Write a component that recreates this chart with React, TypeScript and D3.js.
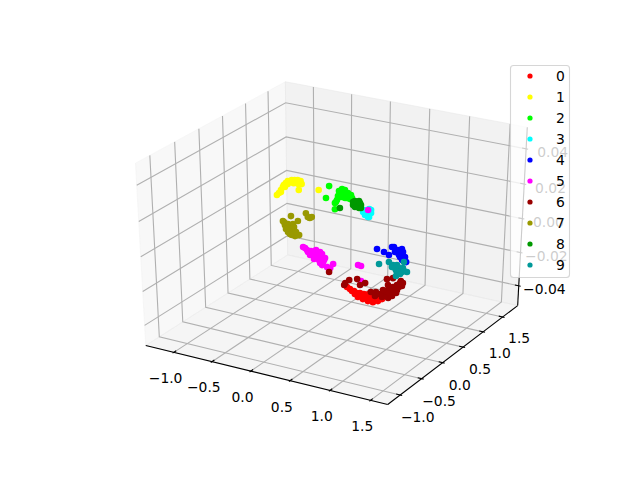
import * as d3 from 'd3';

type Pt = [number, number];

const labels = ['0', '1', '2', '3', '4', '5', '6', '7', '8', '9'];
const colors = ['#ff0000', '#ffff00', '#00ff00', '#00ffff', '#0000ff', '#ff00ff', '#990000', '#999900', '#009900', '#009999'];

const xTicks = [-1, -0.5, 0, 0.5, 1, 1.5];
const yTicks = [-1, -0.5, 0, 0.5, 1, 1.5];
const zTicks = [-0.04, -0.02, 0, 0.02, 0.04];

// all the points sit on z = 0
const class0: Pt[] = [[0.986, -0.885], [1.085, -0.955], [1.152, -1.013], [1.219, -1.069], [1.291, -1.091], [1.363, -1.112], [1.422, -1.11], [1.454, -1.058], [1.465, -0.988], [1.185, -0.961], [1.301, -1.021], [1.37, -1.012], [1.392, -0.966], [1.238, -0.993], [1.28, -0.937], [1.04, -0.918], [1.103, -0.944], [1.157, -0.977], [1.233, -1.028], [1.297, -1.055], [1.355, -1.053], [1.414, -1.05], [1.434, -0.974], [1.234, -0.964], [1.315, -0.979], [1.397, -0.996]];
const class1: Pt[] = [[-1.056, 1.128], [-1.069, 1.196], [-1.099, 1.293], [-1.129, 1.389], [-1.152, 1.451], [-1.165, 1.519], [-1.178, 1.588], [-1.155, 1.64], [-1.126, 1.658], [-1.096, 1.676], [-1.049, 1.665], [-0.99, 1.586], [-0.921, 1.399], [-1.142, 1.572], [-1.112, 1.59], [-1.056, 1.584], [-1.109, 1.401], [-0.723, 1.517], [-1.086, 1.566], [-1.129, 1.503], [-1.02, 1.568], [-1.066, 1.237]];
const class2: Pt[] = [[-0.682, 1.692], [-0.521, 1.332], [-0.257, 1.071], [-0.359, 1.276], [-0.38, 1.339], [-0.504, 1.608], [-0.505, 1.683], [-0.46, 1.672], [-0.383, 1.604], [-0.321, 1.565], [-0.313, 1.456], [-0.368, 1.461], [-0.446, 1.529], [-0.263, 1.485], [-0.325, 1.525], [-0.387, 1.564], [-0.432, 1.575], [-0.438, 1.61], [-0.388, 1.449], [-0.332, 1.444], [-0.267, 1.445], [-0.434, 1.459], [-0.353, 1.242]];
const class3: Pt[] = [[0.042, 1.218], [0.076, 1.275], [0.155, 1.175], [0.126, 1.085], [0.186, 1.047], [0.116, 1.152], [0.062, 1.157], [0.11, 1.258], [0.196, 1.053]];
const class4: Pt[] = [[0.739, 0.24], [0.847, 0.201], [0.936, 0.151], [0.853, 0.376], [0.872, 0.387], [0.993, 0.254], [1.027, 0.308], [1.068, 0.161], [1.115, 0.189], [1.195, 0.064], [1.129, 0.093], [1.012, 0.265], [0.951, 0.263], [1.059, 0.224], [0.951, 0.332], [1.134, 0.131], [1.031, 0.207], [0.975, 0.38]];
const class5: Pt[] = [[0.081, 1.241], [0.045, -0.141], [0.131, -0.226], [0.183, -0.229], [0.197, -0.187], [0.244, -0.159], [0.336, -0.276], [0.417, -0.397], [0.528, -0.503], [0.54, -0.392], [0.57, -0.511], [0.193, -0.291], [0.303, -0.329], [0.404, -0.44], [0.245, -0.294], [0.254, -0.221], [0.378, -0.284], [0.786, -0.278], [0.828, -0.287], [1.033, -0.661], [0.011, -0.126], [0.092, -0.181], [0.221, -0.274], [0.177, -0.13], [0.292, -0.199], [0.397, -0.34], [0.452, -0.48], [0.35, -0.368], [0.144, -0.183], [0.289, -0.371]];
const class6: Pt[] = [[0.614, -0.614], [0.912, -0.703], [0.916, -0.798], [0.933, -0.853], [0.972, -0.636], [1.079, -0.766], [1.099, -0.689], [1.271, -0.877], [1.317, -0.85], [1.361, -0.952], [1.247, -0.473], [1.289, -0.415], [1.458, -0.863], [1.419, -0.724], [1.407, -0.635], [1.417, -0.564], [1.419, -0.499], [1.413, -0.825], [1.477, -0.787], [1.483, -0.686], [1.476, -0.561], [1.507, -0.93], [1.438, -0.939], [1.439, -0.648], [1.37, -0.657], [1.443, -0.903], [1.396, -0.77], [1.45, -0.803], [1.402, -0.67], [1.469, -0.727], [1.461, -0.602], [1.401, -0.445], [1.381, -0.877], [1.355, -0.762], [1.335, -0.613], [1.516, -0.86], [1.446, -0.483], [1.514, -0.765]];
const class7: Pt[] = [[-0.578, 0.625], [-0.434, 0.532], [-0.478, 0.791], [-0.364, 0.681], [-0.399, 0.696], [-0.36, 0.719], [-0.553, 0.424], [-0.497, 0.35], [-0.431, 0.282], [-0.359, 0.18], [-0.274, 0.124], [-0.23, 0.114], [-0.206, 0.164], [-0.483, 0.393], [-0.376, 0.278], [-0.332, 0.268], [-0.433, 0.352], [-0.472, 0.329], [-0.381, 0.239], [-0.321, 0.204], [-0.309, 0.138], [-0.27, 0.161], [-0.493, 0.388], [-0.579, 0.446], [-0.435, 0.422], [-0.225, 0.152], [-0.421, 0.287], [-0.378, 0.348], [-0.282, 0.227], [-0.425, 0.249]];
const class8: Pt[] = [[-0.121, 1.345], [-0.144, 1.294], [-0.066, 1.34], [-0.188, 1.418], [-0.148, 1.442], [-0.094, 1.248], [-0.039, 1.244], [-0.226, 1.132], [-0.191, 1.378], [-0.107, 1.391], [-0.02, 1.255]];
const class9: Pt[] = [[0.968, -0.136], [1.033, -0.03], [1.173, 0.053], [1.111, -0.084], [1.171, -0.149], [1.185, -0.107], [1.245, -0.105], [1.337, -0.185], [1.29, -0.212], [1.244, -0.24], [1.289, -0.346], [1.245, -0.172], [1.207, -0.194], [1.262, -0.229], [1.296, -0.175], [1.129, -0.141], [1.149, -0.062], [1.3, -0.273]];
const classes = [class0, class1, class2, class3, class4, class5, class6, class7, class8, class9];

const width = 640;
const height = 480;

// data -> unit cube
const xNorm = d3.scaleLinear().domain([-1.31, 1.648]).range([0, 1]);
const yNorm = d3.scaleLinear().domain([-1.22, 1.83]).range([0, 1]);
const zNorm = d3.scaleLinear().domain([-0.05, 0.05]).range([0, 1]);

// view plane -> pixels, same limits mplot3d uses inside the default axes rectangle
const xView = d3.scaleLinear().domain([-0.095, 0.09]).range([80, 576]);
const yView = d3.scaleLinear().domain([-0.095, 0.09]).range([427.2, 57.6]);

// elev 30, azim -60, dist 10
const elev = (30 * Math.PI) / 180;
const azim = (-60 * Math.PI) / 180;
const dist = 10;
const n = [Math.cos(azim) * Math.cos(elev), Math.sin(azim) * Math.cos(elev), Math.sin(elev)];
const u = [-n[1], n[0], 0].map(d => d / Math.hypot(n[0], n[1]));
const v = [n[1] * u[2] - n[2] * u[1], n[2] * u[0] - n[0] * u[2], n[0] * u[1] - n[1] * u[0]];
const dot = (a: number[], b: number[]) => a[0] * b[0] + a[1] * b[1] + a[2] * b[2];

const project = (a: number, b: number, c: number): [number, number] => {
  const p = [a - 0.5, b - 0.5, c - 0.5];
  const w = dist - dot(n, p);
  return [xView(dot(u, p) / w), yView(dot(v, p) / w)];
};

const lo = -1 / 48;
const hi = 49 / 48;
const tickIn = 0.2 / 12;
const tickOut = 0.1 / 12;
const labelGap = 0.0738;

const poly = (pts: number[][]) => pts.map(p => project(p[0], p[1], p[2]).join(',')).join(' ');
const path3 = (pts: number[][]) => d3.line()(pts.map(p => project(p[0], p[1], p[2])) as [number, number][]) as string;

const fmt1 = d3.format('.1f');
const fmt2 = d3.format('.2f');
const minus = (s: string) => s.replace('-', '\u2212');

const panes = [
  { key: 'x', fill: 'rgb(242,242,242)', pts: [[lo, lo, lo], [lo, hi, lo], [lo, hi, hi], [lo, lo, hi]] },
  { key: 'y', fill: 'rgb(230,230,230)', pts: [[lo, hi, lo], [hi, hi, lo], [hi, hi, hi], [lo, hi, hi]] },
  { key: 'z', fill: 'rgb(236,236,236)', pts: [[lo, lo, lo], [hi, lo, lo], [hi, hi, lo], [lo, hi, lo]] },
];

const fontFamily = '"DejaVu Sans", sans-serif';

export default function App() {
  return (
    <svg width={width} height={height} style={{ position: 'absolute', left: 0, top: 0, background: '#fff' }} fontFamily={fontFamily} fontSize={13.89}>
      {panes.map(p => (
        <polygon key={p.key} points={poly(p.pts)} fill={p.fill} fillOpacity={0.5} stroke={p.fill} strokeOpacity={0.5} strokeWidth={1} />
      ))}

      <g fill="none" stroke="#b0b0b0" strokeWidth={1.11}>
        {xTicks.map(t => <path key={t} d={path3([[xNorm(t), lo, lo], [xNorm(t), hi, lo], [xNorm(t), hi, hi]])} />)}
        {yTicks.map(t => <path key={t} d={path3([[hi, yNorm(t), lo], [lo, yNorm(t), lo], [lo, yNorm(t), hi]])} />)}
        {zTicks.map(t => <path key={t} d={path3([[lo, lo, zNorm(t)], [lo, hi, zNorm(t)], [hi, hi, zNorm(t)]])} />)}
      </g>

      <g fill="none" stroke="#000" strokeWidth={1.11}>
        <path d={path3([[lo, lo, lo], [hi, lo, lo]])} />
        <path d={path3([[hi, lo, lo], [hi, hi, lo]])} />
        <path d={path3([[hi, hi, lo], [hi, hi, hi]])} />
        {xTicks.map(t => <path key={t} d={path3([[xNorm(t), lo - tickOut, lo], [xNorm(t), lo + tickIn, lo]])} />)}
        {yTicks.map(t => <path key={t} d={path3([[hi + tickOut, yNorm(t), lo], [hi - tickIn, yNorm(t), lo]])} />)}
        {zTicks.map(t => <path key={t} d={path3([[hi + tickOut, hi, zNorm(t)], [hi - tickIn, hi, zNorm(t)]])} />)}
      </g>

      <g textAnchor="middle" dominantBaseline="central" fill="#000">
        {xTicks.map(t => {
          const [px, py] = project(xNorm(t), lo - labelGap, lo - labelGap);
          return <text key={t} x={px + 2} y={py + 6}>{minus(fmt1(t))}</text>;
        })}
        {yTicks.map(t => {
          const [px, py] = project(hi + labelGap, yNorm(t), lo - labelGap);
          return <text key={t} x={px} y={py + 5.5}>{minus(fmt1(t))}</text>;
        })}
        {zTicks.map(t => {
          const [px, py] = project(hi + labelGap, hi + labelGap, zNorm(t));
          return <text key={t} x={px} y={py + 6}>{minus(fmt2(t))}</text>;
        })}
      </g>

      {classes.map((pts, i) => (
        <g key={labels[i]} fill={colors[i]}>
          {pts.map((d, j) => {
            const [px, py] = project(xNorm(d[0]), yNorm(d[1]), zNorm(0));
            return <circle key={j} cx={px} cy={py} r={3.3} />;
          })}
        </g>
      ))}

      <rect x={510.5} y={65.5} width={59} height={212} rx={3} fill="#fff" fillOpacity={0.8} stroke="#ccc" strokeOpacity={0.8} strokeWidth={1.11} />
      {labels.map((l, i) => (
        <g key={l}>
          <circle cx={530} cy={76 + i * 21} r={2.6} fill={colors[i]} />
          <text x={556} y={76 + i * 21} dominantBaseline="central" fill="#000">{l}</text>
        </g>
      ))}
    </svg>
  );
}
